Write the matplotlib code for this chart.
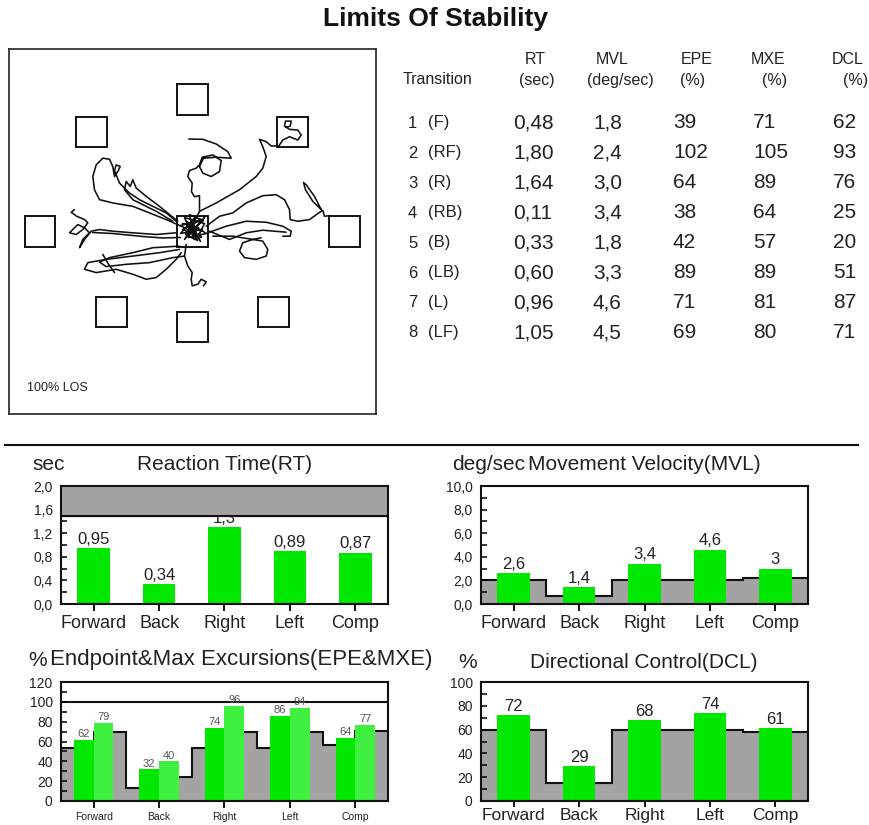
import matplotlib
matplotlib.use("Agg")
import matplotlib.pyplot as plt
from matplotlib.patches import Rectangle
from matplotlib.lines import Line2D
from matplotlib.ticker import MultipleLocator, FuncFormatter

plt.rcParams['font.family'] = ['Liberation Sans', 'DejaVu Sans']

# ---------------- data ----------------
trans_num = ["1", "2", "3", "4", "5", "6", "7", "8"]
trans_dir = ["(F)", "(RF)", "(R)", "(RB)", "(B)", "(LB)", "(L)", "(LF)"]
rt = [0.48, 1.80, 1.64, 0.11, 0.33, 0.60, 0.96, 1.05]
mvl = [1.8, 2.4, 3.0, 3.4, 1.8, 3.3, 4.6, 4.5]
epe = [39, 102, 64, 38, 42, 89, 71, 69]
mxe = [71, 105, 89, 64, 57, 89, 81, 80]
dcl = [62, 93, 76, 25, 20, 51, 87, 71]

categories = ["Forward", "Back", "Right", "Left", "Comp"]
rt_summary = [0.95, 0.34, 1.3, 0.89, 0.87]
rt_limit = 1.5
mvl_summary = [2.6, 1.4, 3.4, 4.6, 3.0]
mvl_norm = [2.0, 0.65, 2.0, 2.0, 2.2]
epe_summary = [62, 32, 74, 86, 64]
mxe_summary = [79, 40, 96, 94, 77]
epe_norm = [53, 13, 53, 53, 56]
mxe_norm = [70, 24, 70, 70, 71]
dcl_summary = [72, 29, 68, 74, 61]
dcl_norm = [60, 15, 60, 60, 58]

# target squares of the LOS test (centre + 8 directions)
target_x = [0, 0, 100.5, 152.5, 81, 0, -81.5, -152.5, -101]
target_y = [0, 133, 100, 0, -81, -96, -81, 0, 100]
target_half = 15.5

# centre-of-pressure trace, one list per excursion
cop_center_x = [0, -5, 8, -10, 6, 12, -8, 2, 10, -12, 4, -4, 14, -6, 8, 0, -10, 6, -2, 12, -8, 3, -12, 9, 0, 5, -7, 11, -3, 0]
cop_center_y = [0, 5, 12, 2, -4, 8, 14, -8, 2, -2, 16, -6, -2, 10, -10, 6, 8, 4, -2, 14, -8, 10, 6, -6, 0, -9, -3, 11, 17, 3]
cop_f_x = [0, 7, 7, 2, -1, -0.3, -4.7, -3, 3.7, 7, 9.7, 20.3, 28.7, 27, 18.7, 10.3, 7, 11, 23.7, 38.7, 35.3, 23.7, 10.3, -3.7]
cop_f_y = [7, 20, 36, 35, 40, 48.7, 55.3, 61.3, 63.7, 67, 74.7, 77, 71.3, 60.3, 55.3, 58.7, 65.3, 73.7, 74.7, 73.7, 80.3, 88, 92.7, 93]
cop_rf_x = [7, 23.7, 47, 63.7, 70.3, 73.7, 70.3, 67, 73.7, 78.7, 86.3, 90.3, 97, 105.3, 108.7, 105.3, 97, 92, 93, 98.7, 97.7, 93.7]
cop_rf_y = [20.3, 28.7, 42, 55.3, 63.7, 75.3, 85.3, 92.7, 90.3, 86, 86, 92, 95.3, 92, 97, 102, 102.7, 106, 111, 111, 106, 104.7]
cop_r1_x = [13.7, 27, 40.3, 53.7, 70.3, 83.7, 92, 97, 97.7, 105.3, 117, 125.3, 130.3, 132, 137]
cop_r1_y = [5.3, 15.3, 18.7, 28.7, 36, 37, 32, 22, 12, 10.3, 12, 18, 21.3, 15.3, 16]
cop_leaf_x = [128.7, 122, 113.7, 111, 113, 120.3, 128.7]
cop_leaf_y = [22, 35.3, 47, 49.3, 42, 30.3, 22]
cop_r2_x = [15.3, 33.7, 53.7, 73.7, 90.3, 98.7, 97.7, 90.3]
cop_r2_y = [-1.3, 5.3, 10.3, 9.3, 5.3, 0.3, -4.7, -4.7]
cop_r3_x = [17, 37, 53.7, 70.3, 93.7]
cop_r3_y = [0.3, -8, -1.3, 1.3, -0.7]
cop_rb_x = [20.3, 40.3, 60.3, 70.3, 75.3, 73.7, 63.7, 52, 47, 50.3, 60.3, 68.7]
cop_rb_y = [-4.7, -4.7, -8, -9.7, -18, -24.7, -28, -26.3, -19.7, -11.3, -8, -6.3]
cop_b_x = [-6.3, -8, -4.7, -0.3, -1.3, -0.3, 5.3, 8.7, 13.7, 11]
cop_b_y = [-13, -24.7, -34.7, -41.3, -48, -54.7, -53, -48, -50.7, -54.7]
cop_lb1_x = [-13, -33, -59.7, -86.3, -104.7, -108, -96.3, -76.3, -59.7, -46.3, -36.3, -26.3, -16.3, -11.3]
cop_lb1_y = [-18, -21.3, -24.7, -28, -31.3, -38, -41.3, -38, -43, -48, -46.3, -38, -28, -21.3]
cop_lb2_x = [-13, -39.7, -59.7, -83, -93, -86.3, -66.3, -43, -19.7, -8]
cop_lb2_y = [-14.7, -16.3, -21.3, -26.3, -30.7, -35.3, -33, -31.3, -26.3, -24.7]
cop_lb3_x = [-89.7, -84, -78]
cop_lb3_y = [-23, -33, -41.3]
cop_l1_x = [-16.3, -36.3, -59.7, -79.7, -93, -101.3, -108, -113, -109.7, -103, -108, -114.7, -123, -116.3, -109.7, -104.7, -108, -115.7, -121.3, -118]
cop_l1_y = [-1.3, -3, -1.3, 0.3, 2, 0.3, -8, -16.3, -8, -1.3, 3.7, 7, -1.3, -3, 2, 8.7, 12, 15.3, 19.3, 22]
cop_l2_x = [-12, -30, -50, -80, -100]
cop_l2_y = [-6, -6.5, -5, -2, -1]
cop_lf1_x = [-11.3, -26.3, -43, -59.7, -79.7, -93, -98, -99.7, -96.3, -89.7, -83, -79.7, -78, -74.7, -72.3, -76.3, -78, -73, -63, -53, -39.7, -26.3, -16.3]
cop_lf1_y = [5.3, 12, 18.7, 25.3, 28.7, 32, 42, 55.3, 67, 73.7, 72.7, 65.3, 55.3, 60.3, 65.3, 67, 61.3, 48.7, 38.7, 32, 25.3, 18.7, 10.3]
cop_lf2_x = [-14.7, -33, -46.3, -56.3, -59.7, -62.3, -66.3, -68, -59.7, -36.3, -19.7]
cop_lf2_y = [10.3, 25.3, 35.3, 43.7, 52, 45.3, 50.3, 42, 32, 20.3, 10.3]

cop_paths = [
    (cop_center_x, cop_center_y), (cop_f_x, cop_f_y), (cop_rf_x, cop_rf_y),
    (cop_r1_x, cop_r1_y), (cop_leaf_x, cop_leaf_y), (cop_r2_x, cop_r2_y),
    (cop_r3_x, cop_r3_y), (cop_rb_x, cop_rb_y), (cop_b_x, cop_b_y),
    (cop_lb1_x, cop_lb1_y), (cop_lb2_x, cop_lb2_y), (cop_lb3_x, cop_lb3_y),
    (cop_l1_x, cop_l1_y), (cop_l2_x, cop_l2_y), (cop_lf1_x, cop_lf1_y),
    (cop_lf2_x, cop_lf2_y),
]

# ---------------- figure helpers ----------------
W, H = 870, 825
fig = plt.figure(figsize=(W / 100, H / 100), dpi=100)
TXT = '#222222'
GRAY = '#a3a3a3'
GREEN = '#00e800'
GREEN_LIGHT = '#40f040'


def px_axes(x0, y0, x1, y1):
    return fig.add_axes([x0 / W, 1 - y1 / H, (x1 - x0) / W, (y1 - y0) / H])


def ftext(x, y, s, **kw):
    kw.setdefault('color', TXT)
    kw.setdefault('va', 'center')
    fig.text(x / W, 1 - y / H, s, **kw)


def comma(v):
    return f"{v:g}".replace('.', ',')


# ---------------- title ----------------
ftext(436, 19, "Limits Of Stability", ha='center', fontsize=19, fontweight='bold', color='#111111')

# ---------------- sway trace ----------------
ax_t = px_axes(9, 49, 376, 414)
ax_t.set_xlim(-183.5, 183.5)
ax_t.set_ylim(-183.5, 183.5)
ax_t.set_xticks([])
ax_t.set_yticks([])
for s in ax_t.spines.values():
    s.set_linewidth(1.2)
    s.set_color('#222222')
for tx, ty in zip(target_x, target_y):
    ax_t.add_patch(Rectangle((tx - target_half, ty - target_half), 2 * target_half, 2 * target_half,
                             fill=False, edgecolor='#111111', linewidth=1.4, zorder=2))
for px, py in cop_paths:
    ax_t.plot(px, py, color='#111111', linewidth=1.15, solid_joinstyle='round',
              solid_capstyle='round', zorder=3)
ax_t.text(0.05, 0.07, "100% LOS", transform=ax_t.transAxes, fontsize=9, color=TXT, va='center')

# ---------------- results table ----------------
hdr_fs = 11.5
ftext(403, 80, "Transition", ha='left', fontsize=hdr_fs)
headers = [("RT", "(sec)", 535, 537), ("MVL", "(deg/sec)", 612, 620), ("EPE", "(%)", 697, 693),
           ("MXE", "(%)", 768, 775), ("DCL", "(%)", 848, 856)]
for top, bottom, xt, xb in headers:
    ftext(xt, 60, top, ha='center', fontsize=hdr_fs)
    ftext(xb, 80, bottom, ha='center', fontsize=hdr_fs)

col_x = [513, 593, 673, 753, 833]
for i in range(len(trans_num)):
    y = 123 + i * 30
    ftext(408, y, trans_num[i], ha='left', fontsize=12)
    ftext(428, y, trans_dir[i], ha='left', fontsize=12)
    row = [f"{rt[i]:.2f}".replace('.', ','), f"{mvl[i]:.1f}".replace('.', ','),
           str(epe[i]), str(mxe[i]), str(dcl[i])]
    for cx, val in zip(col_x, row):
        ftext(cx, y, val, ha='left', fontsize=15)

# separator
fig.add_artist(Line2D([5 / W, 858 / W], [1 - 445 / H, 1 - 445 / H], color='#111111', linewidth=1.5))

# ---------------- bar charts ----------------
xpos = list(range(len(categories)))


def setup(ax, ymax, major, minor, yfmt, xfs=13, xlen=5, xpad=3):
    ax.set_xlim(-0.5, 4.5)
    ax.set_ylim(0, ymax)
    ax.yaxis.set_major_locator(MultipleLocator(major))
    ax.yaxis.set_minor_locator(MultipleLocator(minor))
    ax.yaxis.set_major_formatter(FuncFormatter(yfmt))
    ax.tick_params(axis='y', which='both', direction='in', length=4, width=1.1,
                   labelsize=10, pad=6, labelcolor=TXT)
    ax.set_xticks(xpos)
    ax.set_xticklabels(categories)
    ax.tick_params(axis='x', direction='out', length=xlen, width=1.3, labelsize=xfs,
                   pad=xpad, labelcolor=TXT)
    for s in ax.spines.values():
        s.set_linewidth(1.5)
        s.set_color('#111111')
        s.set_zorder(6)


def dec1(v, _):
    return f"{v:.1f}".replace('.', ',')


def integer(v, _):
    return f"{v:.0f}"


def norm_steps(ax, values, edges):
    ax.stairs(values, edges, fill=True, color=GRAY, baseline=0, zorder=1)
    ax.stairs(values, edges, color='#111111', linewidth=1.5, baseline=None, zorder=1.5)


edges5 = [-0.5, 0.5, 1.5, 2.5, 3.5, 4.5]

# Reaction time
ax1 = px_axes(61, 486, 388, 604)
setup(ax1, 2.0, 0.4, 0.2, dec1)
ax1.axhspan(rt_limit, 2.0, color=GRAY, zorder=4)
ax1.axhline(rt_limit, color='#111111', linewidth=1.5, zorder=4.5)
ax1.bar(xpos, rt_summary, width=0.5, color=GREEN, zorder=2)
for x, v in zip(xpos, rt_summary):
    ax1.annotate(comma(v), (x, v), xytext=(0, 1), textcoords='offset points',
                 ha='center', va='bottom', fontsize=12, color=TXT, zorder=3)
ftext(32, 465, "sec", ha='left', fontsize=15)
ftext(224.5, 465, "Reaction Time(RT)", ha='center', fontsize=15)

# Movement velocity
ax2 = px_axes(481, 486, 808, 604)
setup(ax2, 10.0, 2.0, 1.0, dec1)
norm_steps(ax2, mvl_norm, edges5)
ax2.bar(xpos, mvl_summary, width=0.5, color=GREEN, zorder=2)
for x, v in zip(xpos, mvl_summary):
    ax2.annotate(comma(v), (x, v), xytext=(0, 1), textcoords='offset points',
                 ha='center', va='bottom', fontsize=12, color=TXT, zorder=3)
ftext(452, 465, "deg/sec", ha='left', fontsize=15)
ftext(644, 465, "Movement Velocity(MVL)", ha='center', fontsize=15)

# Endpoint & max excursions
ax3 = px_axes(61, 682, 388, 801)
setup(ax3, 120, 20, 10, integer, xfs=7.5)
half_edges = [-0.5 + 0.5 * k for k in range(11)]
paired_norm = []
for a, b in zip(epe_norm, mxe_norm):
    paired_norm += [a, b]
norm_steps(ax3, paired_norm, half_edges)
ax3.axhline(100, color='#111111', linewidth=1.5, zorder=1.5)
ax3.bar([x - 0.15 for x in xpos], epe_summary, width=0.3, color=GREEN, zorder=2)
ax3.bar([x + 0.15 for x in xpos], mxe_summary, width=0.3, color=GREEN_LIGHT, zorder=2)
for x, v in zip(xpos, epe_summary):
    ax3.annotate(str(v), (x - 0.15, v), xytext=(0, 0.5), textcoords='offset points',
                 ha='center', va='bottom', fontsize=8, color='#555555', zorder=3)
for x, v in zip(xpos, mxe_summary):
    ax3.annotate(str(v), (x + 0.15, v), xytext=(0, 0.5), textcoords='offset points',
                 ha='center', va='bottom', fontsize=8, color='#555555', zorder=3)
ftext(28, 660, "%", ha='left', fontsize=15)
ftext(50, 660, "Endpoint&Max Excursions(EPE&MXE)", ha='left', fontsize=16)

# Directional control
ax4 = px_axes(481, 682, 808, 801)
setup(ax4, 100, 20, 10, integer, xfs=12.5, xlen=4, xpad=1)
norm_steps(ax4, dcl_norm, edges5)
ax4.bar(xpos, dcl_summary, width=0.5, color=GREEN, zorder=2)
for x, v in zip(xpos, dcl_summary):
    ax4.annotate(comma(v), (x, v), xytext=(0, 1), textcoords='offset points',
                 ha='center', va='bottom', fontsize=12, color=TXT, zorder=3)
ftext(458, 663, "%", ha='left', fontsize=15)
ftext(644, 663, "Directional Control(DCL)", ha='center', fontsize=15)

fig.savefig("out.png", dpi=100, facecolor='white')
